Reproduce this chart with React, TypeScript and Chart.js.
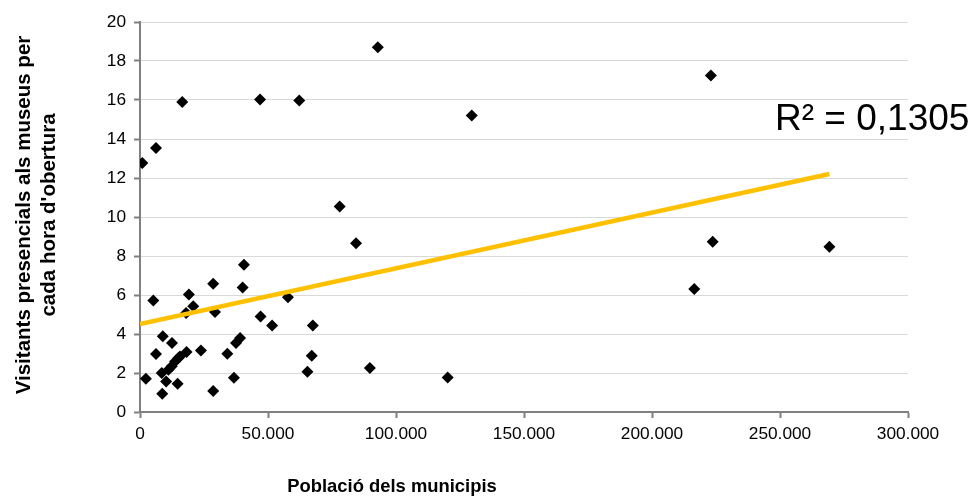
import React, { useEffect, useRef } from 'react';
import { Chart, registerables } from 'chart.js';

Chart.register(...registerables);

// Population of each municipality
const population: number[] = [
  900, 6250, 16500, 46900, 62200, 92900, 129600, 78000, 84400, 223000, 223700, 269300, 216500, 89800, 120200,
  2300, 5200, 6250, 8900, 12500, 8500, 10200, 8700, 11100, 12400, 13700, 15000, 15600, 14700, 18200,
  19100, 18000, 20800, 23800, 28600, 29300, 28600, 34100, 36700, 37500, 39100, 40600, 40100, 47100,
  51600, 57800, 67500, 67100, 65400,
];

// In-person museum visitors per opening hour
const visitorsPerHour: number[] = [
  12.77, 13.54, 15.9, 16.03, 15.98, 18.7, 15.21, 10.54, 8.66, 17.26, 8.73, 8.48, 6.31, 2.26, 1.77,
  1.71, 5.72, 2.97, 3.88, 3.54, 2.0, 1.57, 0.94, 2.17, 2.34, 2.59, 2.77, 2.85, 1.45, 3.08,
  6.02, 5.08, 5.42, 3.16, 6.58, 5.13, 1.08, 2.99, 1.76, 3.54, 3.79, 7.55, 6.39, 4.9,
  4.43, 5.88, 4.43, 2.89, 2.07,
];

const xTickMin = 0;
const xTickMax = 300000;
const xTickStep = 50000;
const yTickMin = 0;
const yTickMax = 20;
const yTickStep = 2;

const r2Label = 'R² = 0,1305';
const yTitleLines = ['Visitants presencials als museus per', "cada hora d'obertura"];
const xTitle = 'Població dels municipis';

const FONT = 'Arial, "Liberation Sans", sans-serif';

function formatThousands(v: number): string {
  return String(Math.round(v)).replace(/\B(?=(\d{3})+(?!\d))/g, '.');
}

function linearFit(xs: number[], ys: number[]) {
  const n = xs.length;
  const mx = xs.reduce((a, b) => a + b, 0) / n;
  const my = ys.reduce((a, b) => a + b, 0) / n;
  let sxx = 0;
  let sxy = 0;
  for (let i = 0; i < n; i++) {
    sxx += (xs[i] - mx) * (xs[i] - mx);
    sxy += (xs[i] - mx) * (ys[i] - my);
  }
  const slope = sxy / sxx;
  return { slope, intercept: my - slope * mx };
}

const labelsPlugin = {
  id: 'labelsPlugin',
  afterDraw(chart: any) {
    const { ctx, chartArea } = chart;
    ctx.save();
    ctx.fillStyle = '#000';
    // y-axis title (two lines, rotated)
    const cy = (chartArea.top + chartArea.bottom) / 2;
    ctx.font = `bold 20.5px ${FONT}`;
    ctx.textAlign = 'center';
    ctx.textBaseline = 'middle';
    ctx.save();
    ctx.translate(24, cy - 2);
    ctx.rotate(-Math.PI / 2);
    ctx.fillText(yTitleLines[0], 0, 0);
    ctx.fillText(yTitleLines[1], 0, 25);
    ctx.restore();
    // x-axis title
    ctx.font = `bold 18.4px ${FONT}`;
    ctx.fillText(xTitle, 392, 487);
    // R² label
    ctx.font = `37px ${FONT}`;
    ctx.textAlign = 'left';
    ctx.fillText(r2Label, 775, 120);
    ctx.restore();
  },
};

export default function App() {
  const canvasRef = useRef<HTMLCanvasElement | null>(null);

  useEffect(() => {
    if (!canvasRef.current) return;
    const points = population.map((x, i) => ({ x, y: visitorsPerHour[i] }));
    const { slope, intercept } = linearFit(population, visitorsPerHour);
    const maxX = Math.max(...population);
    const trend = [
      { x: 0, y: intercept },
      { x: maxX, y: intercept + slope * maxX },
    ];

    const chart = new Chart(canvasRef.current, {
      type: 'scatter',
      data: {
        datasets: [
          {
            label: 'Tendència',
            data: trend,
            showLine: true,
            borderColor: '#FFC000',
            backgroundColor: '#FFC000',
            borderWidth: 4.5,
            pointRadius: 0,
            order: 0,
          },
          {
            label: 'Municipis',
            data: points,
            pointStyle: 'rectRot',
            pointRadius: 6,
            backgroundColor: '#000',
            borderColor: '#000',
            borderWidth: 0,
            order: 1,
          },
        ],
      },
      options: {
        animation: false,
        responsive: false,
        devicePixelRatio: 1,
        layout: { padding: { top: 22, right: 63, left: 0, bottom: 0 } },
        plugins: {
          legend: { display: false },
          tooltip: { enabled: false },
        },
        scales: {
          x: {
            type: 'linear',
            min: xTickMin,
            max: xTickMax,
            ticks: {
              stepSize: xTickStep,
              color: '#000',
              font: { family: FONT, size: 17.3 },
              padding: 6,
              maxRotation: 0,
              callback: (v: any) => formatThousands(Number(v)),
            },
            grid: {
              drawOnChartArea: false,
              drawTicks: true,
              tickLength: 6,
              tickColor: '#808080',
              tickWidth: 2,
            },
            border: { display: true, color: '#808080', width: 2 },
            afterFit: (s: any) => {
              s.height = 86;
            },
          },
          y: {
            type: 'linear',
            min: yTickMin,
            max: yTickMax,
            ticks: {
              stepSize: yTickStep,
              color: '#000',
              font: { family: FONT, size: 17.3 },
              padding: 8,
            },
            grid: {
              color: '#d9d9d9',
              lineWidth: 1,
              drawTicks: true,
              tickLength: 6,
              tickColor: '#808080',
              tickWidth: 2,
            },
            border: { display: true, color: '#808080', width: 2 },
            afterFit: (s: any) => {
              s.width = 140;
            },
          },
        },
      },
      plugins: [labelsPlugin],
    });
    return () => chart.destroy();
  }, []);

  return (
    <div style={{ position: 'absolute', left: 0, top: 0, width: 971, height: 498, background: '#fff' }}>
      <canvas ref={canvasRef} width={971} height={498} />
    </div>
  );
}
